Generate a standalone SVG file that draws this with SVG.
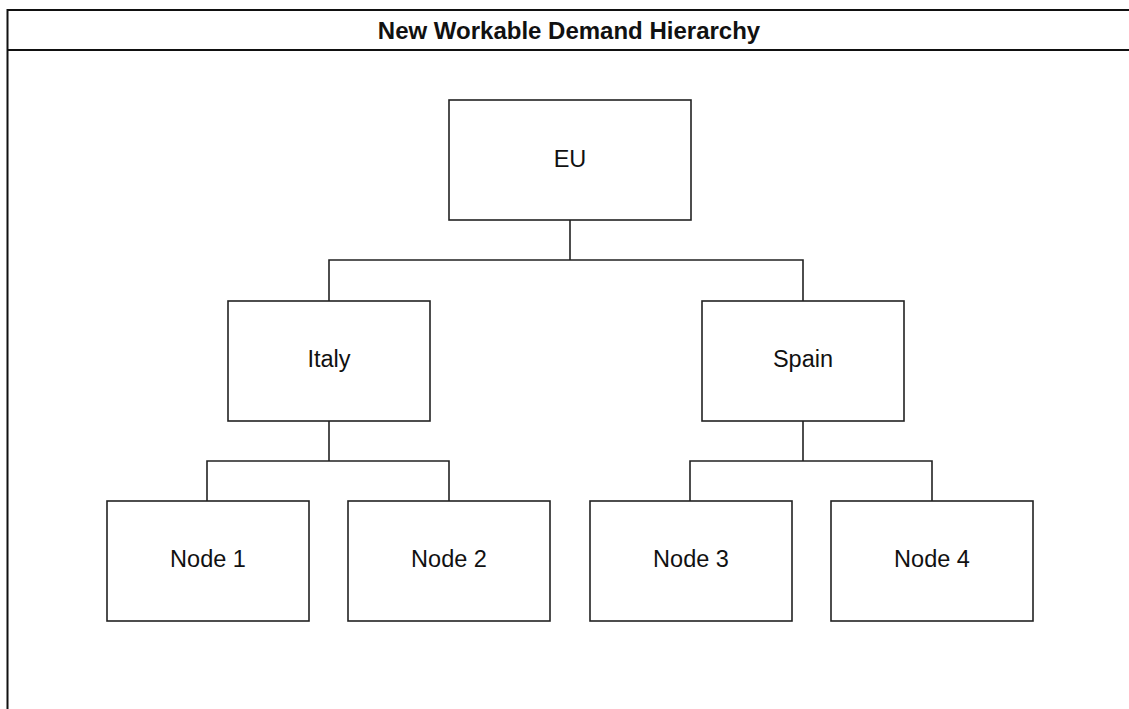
<svg xmlns="http://www.w3.org/2000/svg" width="1129" height="709" viewBox="0 0 1129 709">
<style>
.box{fill:#fff;stroke:#222;stroke-width:1.6}
.lbl{font-family:"Liberation Sans",Arial,sans-serif;font-size:23.5px;fill:#111;text-anchor:middle;dominant-baseline:central}
.con{fill:none;stroke:#222;stroke-width:1.6}
.frame{fill:none;stroke:#111;stroke-width:2}
.title{font-family:"Liberation Sans",Arial,sans-serif;font-size:24px;font-weight:bold;fill:#111;text-anchor:middle;dominant-baseline:central}
</style>
<rect width="1129" height="709" fill="#fff"/>
<g id="frame">
<path class="frame" d="M1135,10 H7.5 V715"/>
<line class="frame" x1="7.5" y1="50" x2="1135" y2="50"/>
<text class="title" x="569" y="30">New Workable Demand Hierarchy</text>
</g>
<g id="connectors">
<path class="con" d="M570,220 V260 M329,301 V260 H803 V301"/>
<path class="con" d="M329,421 V461 M207,501 V461 H449 V501"/>
<path class="con" d="M803,421 V461 M690,501 V461 H932 V501"/>
</g>
<g id="eu"><rect class="box" x="449" y="100" width="242" height="120"/><text class="lbl" x="570" y="158.5">EU</text></g>
<g id="italy"><rect class="box" x="228" y="301" width="202" height="120"/><text class="lbl" x="329" y="359">Italy</text></g>
<g id="spain"><rect class="box" x="702" y="301" width="202" height="120"/><text class="lbl" x="803" y="359">Spain</text></g>
<g id="node1"><rect class="box" x="107" y="501" width="202" height="120"/><text class="lbl" x="208" y="559">Node 1</text></g>
<g id="node2"><rect class="box" x="348" y="501" width="202" height="120"/><text class="lbl" x="449" y="559">Node 2</text></g>
<g id="node3"><rect class="box" x="590" y="501" width="202" height="120"/><text class="lbl" x="691" y="559">Node 3</text></g>
<g id="node4"><rect class="box" x="831" y="501" width="202" height="120"/><text class="lbl" x="932" y="559">Node 4</text></g>
</svg>
